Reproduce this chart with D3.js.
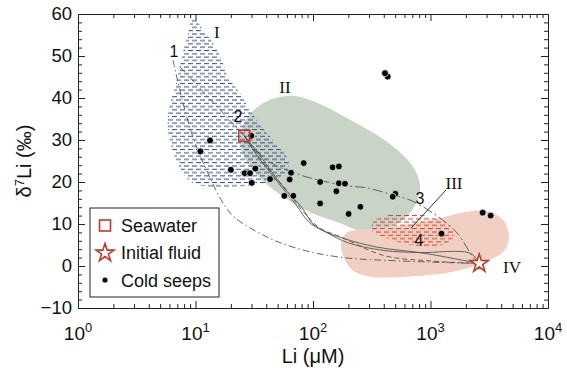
<!DOCTYPE html>
<html>
<head>
<meta charset="utf-8">
<script src="https://cdn.jsdelivr.net/npm/d3@7"></script>
<style>
  body { margin: 0; background: #fff; }
  text { font-family: "Liberation Sans", Arial, sans-serif; }
</style>
</head>
<body>
<div class="canva"></div>
<script>
// ---- data (Li in µM, d7Li in permil) ----
const xTickExps = [0, 1, 2, 3, 4];
const yTicks = [-10, 0, 10, 20, 30, 40, 50, 60];

const seepLi   = [13.3, 11.0, 29.8, 20.0, 26.2, 29.1, 32.3, 30.1, 43.1, 57.0, 68.0, 65.0, 63.3, 83.3, 115, 115, 147, 166, 166, 187, 158, 201, 253, 502, 477, 2780, 3250, 1240, 432, 410];
const seepD7Li = [29.9, 27.3, 31.0, 22.9, 22.1, 22.1, 23.2, 19.8, 20.7, 16.7, 16.7, 22.2, 20.6, 24.5, 20.0, 14.9, 23.5, 23.7, 19.7, 19.6, 17.8, 12.4, 14.1, 17.2, 16.5, 12.7, 12.0, 7.7, 45.1, 45.9];

const seawater = [26, 31];
const initialFluid = [2600, 0.6];

// region outlines
const regionI = [[9.4,58.8],[10.5,57.9],[12.0,55.7],[14.1,53.1],[16.8,49.0],[18.9,45.0],[23.9,41.2],[29.1,37.1],[36.8,33.1],[49.4,28.8],[62,25.0],[58,22.0],[42,19.9],[25,19.0],[12.0,19.0],[9.0,20.2],[7.4,23.3],[6.3,28.1],[5.8,32.9],[5.95,37.6],[6.6,41.9],[7.1,45.5],[7.8,50.7],[8.7,55.8]];
const regionII = [[23.9,30.0],[26.9,34.8],[34,37.9],[47.5,40.0],[70,40.5],[115,38.6],[207,34.8],[372,30.7],[583,26.4],[753,22.4],[814,18.1],[724,14.0],[550,10.5],[387,8.6],[261,8.3],[170,10.2],[98,12.6],[58,16.2],[36.8,20.5],[27.4,24.8]];
const regionIII = [[435,12.1],[696,12.4],[1158,11.2],[1524,9.0],[1554,6.7],[1253,5.0],[669,5.0],[452,6.4],[318,8.3],[324,10.5]];
const regionIV = [[173,5.0],[195,7.9],[288,8.8],[550,9.5],[1205,11.4],[2045,12.9],[3026,13.1],[4140,11.0],[4657,6.7],[4222,3.6],[3026,1.2],[1783,-1.0],[768,-2.4],[288,-2.4],[207,-0.5]];

// mixing curves
const curve1a = [[6.43,49.0],[7.83,38.8],[9.5,30.7],[10.9,26.4],[13.3,21.0],[16.2,16.2],[20.9,11.9],[40.6,6.9],[77.5,4.0],[170,2.1],[550,1.2],[2600,0.6]];
const curve1b = [[7.38,47.4],[26,31]];
const curve3 = [[26,31],[40.6,25.2],[77.5,21.7],[132,20.0],[207,19.0],[288,18.6],[480,16.9],[669,15.7],[1050,12.6],[1681,7.9],[2299,2.1],[2600,0.6]];
const curve2 = [[26,31],[36,26],[55,19],[80,14],[100,10],[130,8],[200,5.5],[400,3.7],[800,3.2],[2200,3.0],[2600,0.6]];
const curve4 = [[26,31],[33,26.5],[50,20],[72,14.5],[92,10.5],[120,8.5],[180,6.6],[350,4.5],[900,3.0],[2600,0.6]];
const curve5 = [[26,31],[38,24.5],[60,18],[85,12.5],[115,9],[170,7],[400,2.5],[1000,1.2],[2600,0.6]];

const leaderIII = [[1355,18.1],[682,9.0]];

const labels = [
  {t: "1", li: 6.56, d: 51.2, serif: false},
  {t: "2", li: 23.0, d: 35.7, serif: false},
  {t: "3", li: 814, d: 16.2, serif: false},
  {t: "4", li: 798, d: 6.2, serif: false},
  {t: "I", li: 15.2, d: 55.7, serif: true},
  {t: "II", li: 57.8, d: 42.6, serif: true},
  {t: "III", li: 1585, d: 19.8, serif: true},
  {t: "IV", li: 4940, d: -0.2, serif: true}
];

// ---- setup ----
const width = 567, height = 371;
const margin = {top: 14, right: 19, bottom: 63, left: 78};

const svg = d3.select(".canva").append("svg")
  .attr("width", width)
  .attr("height", height);

const x = d3.scaleLog().domain([1, 1e4]).range([margin.left, width - margin.right]);
const y = d3.scaleLinear().domain([-10, 60]).range([height - margin.bottom, margin.top]);

const defs = svg.append("defs");
function dashPattern(id, color) {
  const p = defs.append("pattern")
    .attr("id", id)
    .attr("patternUnits", "userSpaceOnUse")
    .attr("width", 8).attr("height", 6.6);
  p.append("line").attr("x1", 0).attr("x2", 5).attr("y1", 1).attr("y2", 1)
    .attr("stroke", color).attr("stroke-width", 1);
  p.append("line").attr("x1", 4).attr("x2", 8).attr("y1", 4.3).attr("y2", 4.3)
    .attr("stroke", color).attr("stroke-width", 1);
  p.append("line").attr("x1", 0).attr("x2", 1).attr("y1", 4.3).attr("y2", 4.3)
    .attr("stroke", color).attr("stroke-width", 1);
}
dashPattern("blueHatch", "#2f4588");
dashPattern("redHatch", "#d33a2c");

defs.append("clipPath").attr("id", "plotClip")
  .append("rect")
  .attr("x", margin.left).attr("y", margin.top)
  .attr("width", width - margin.left - margin.right)
  .attr("height", height - margin.top - margin.bottom);

const plot = svg.append("g").attr("clip-path", "url(#plotClip)");

const area = d3.line()
  .x(d => x(d[0])).y(d => y(d[1]))
  .curve(d3.curveCatmullRomClosed.alpha(0.5));

const path = d3.line()
  .x(d => x(d[0])).y(d => y(d[1]))
  .curve(d3.curveCatmullRom.alpha(0.5));

// regions
plot.append("path").datum(regionII).attr("d", area).attr("fill", "#c8d4c6");
plot.append("path").datum(regionIV).attr("d", area).attr("fill", "#f1d0c3");
plot.append("path").datum(regionI).attr("d", area).attr("fill", "url(#blueHatch)");
plot.append("path").datum(regionIII).attr("d", area).attr("fill", "url(#redHatch)");

// curves
const curves = [
  {data: curve1a, dash: "7,3,1.5,3", w: 0.9},
  {data: curve1b, dash: "7,3,1.5,3", w: 0.9},
  {data: curve3, dash: "10,3,2,3", w: 0.9},
  {data: curve2, dash: null, w: 0.9},
  {data: curve4, dash: null, w: 0.9},
  {data: curve5, dash: "5,3", w: 0.9}
];
plot.selectAll(".mix")
  .data(curves)
  .enter()
  .append("path")
  .attr("class", "mix")
  .attr("d", d => path(d.data))
  .attr("fill", "none")
  .attr("stroke", "#555")
  .attr("stroke-width", d => d.w)
  .attr("stroke-dasharray", d => d.dash);

plot.append("path").datum(leaderIII)
  .attr("d", d3.line().x(d => x(d[0])).y(d => y(d[1])))
  .attr("stroke", "#222").attr("stroke-width", 0.9);

// cold seeps
const seeps = seepLi.map((v, i) => ({li: v, d: seepD7Li[i]}));
plot.selectAll(".seep")
  .data(seeps)
  .enter()
  .append("circle")
  .attr("class", "seep")
  .attr("cx", d => x(d.li))
  .attr("cy", d => y(d.d))
  .attr("r", 3.4)
  .attr("fill", "#000")
  .attr("stroke", "#fff")
  .attr("stroke-width", 0.7);

// seawater square
plot.append("rect")
  .attr("x", x(seawater[0]) - 5.5)
  .attr("y", y(seawater[1]) - 5.5)
  .attr("width", 11).attr("height", 11)
  .attr("fill", "none")
  .attr("stroke", "#c0392b")
  .attr("stroke-width", 1.6);

// initial fluid star
const star = d3.symbol().type(d3.symbolStar).size(100);
plot.append("path")
  .attr("d", star())
  .attr("transform", `translate(${x(initialFluid[0])},${y(initialFluid[1])})`)
  .attr("fill", "#fff")
  .attr("stroke", "#c0392b")
  .attr("stroke-width", 1.6);

// annotation labels
svg.selectAll(".lab")
  .data(labels)
  .enter()
  .append("text")
  .attr("class", "lab")
  .attr("x", d => x(d.li))
  .attr("y", d => y(d.d))
  .attr("dy", "0.35em")
  .attr("text-anchor", "middle")
  .style("font-family", d => d.serif ? "'Liberation Serif', 'Times New Roman', serif" : null)
  .attr("font-size", d => d.serif ? 17 : 16)
  .attr("fill", "#111")
  .text(d => d.t);

// ---- axes ----
const minorX = [];
for (let e = 0; e < 4; e++) for (let k = 2; k <= 9; k++) minorX.push(k * Math.pow(10, e));
const majorX = xTickExps.map(e => Math.pow(10, e));
const minorY = d3.range(-10, 61, 2).filter(v => v % 10 !== 0);

const plotBottom = height - margin.bottom, plotRight = width - margin.right;

function styleAxis(g) {
  g.select(".domain").attr("stroke", "#222").attr("stroke-width", 1);
  g.selectAll(".tick line").attr("stroke", "#222").attr("stroke-width", 1);
}

// bottom
svg.append("g").attr("transform", `translate(0,${plotBottom})`)
  .call(d3.axisBottom(x).tickValues(majorX).tickSizeInner(-7).tickSizeOuter(0).tickFormat(""))
  .call(styleAxis);
svg.append("g").attr("transform", `translate(0,${plotBottom})`)
  .call(d3.axisBottom(x).tickValues(minorX).tickSizeInner(-4).tickSizeOuter(0).tickFormat(""))
  .call(styleAxis);
// top
svg.append("g").attr("transform", `translate(0,${margin.top})`)
  .call(d3.axisTop(x).tickValues(majorX).tickSizeInner(-7).tickSizeOuter(0).tickFormat(""))
  .call(styleAxis);
svg.append("g").attr("transform", `translate(0,${margin.top})`)
  .call(d3.axisTop(x).tickValues(minorX).tickSizeInner(-4).tickSizeOuter(0).tickFormat(""))
  .call(styleAxis);
// left
svg.append("g").attr("transform", `translate(${margin.left},0)`)
  .call(d3.axisLeft(y).tickValues(yTicks).tickSizeInner(-7).tickSizeOuter(0).tickPadding(6))
  .call(styleAxis)
  .call(g => g.selectAll(".tick text").attr("font-size", 18.5).attr("fill", "#111")
    .style("font-family", "'Liberation Sans', Arial, sans-serif"));
svg.append("g").attr("transform", `translate(${margin.left},0)`)
  .call(d3.axisLeft(y).tickValues(minorY).tickSizeInner(-4).tickSizeOuter(0).tickFormat(""))
  .call(styleAxis);
// right
svg.append("g").attr("transform", `translate(${plotRight},0)`)
  .call(d3.axisRight(y).tickValues(yTicks).tickSizeInner(-7).tickSizeOuter(0).tickFormat(""))
  .call(styleAxis);
svg.append("g").attr("transform", `translate(${plotRight},0)`)
  .call(d3.axisRight(y).tickValues(minorY).tickSizeInner(-4).tickSizeOuter(0).tickFormat(""))
  .call(styleAxis);

// x tick labels as 10^n
const xl = svg.append("g").selectAll("text")
  .data(xTickExps)
  .enter()
  .append("text")
  .attr("x", d => x(Math.pow(10, d)))
  .attr("y", plotBottom + 32)
  .attr("text-anchor", "middle")
  .attr("font-size", 19)
  .attr("fill", "#111");
xl.append("tspan").text("10");
xl.append("tspan").attr("dy", -8).attr("font-size", 13).text(d => d);

// axis titles
svg.append("text")
  .attr("x", (margin.left + plotRight) / 2)
  .attr("y", height - 8)
  .attr("text-anchor", "middle")
  .attr("font-size", 20)
  .attr("fill", "#111")
  .text("Li (μM)");

const yt = svg.append("text")
  .attr("transform", `translate(31,${(margin.top + plotBottom) / 2}) rotate(-90)`)
  .attr("text-anchor", "middle")
  .attr("font-size", 20)
  .attr("fill", "#111");
yt.append("tspan").text("δ");
yt.append("tspan").attr("dy", -7).attr("font-size", 13).text("7");
yt.append("tspan").attr("dy", 7).text("Li (‰)");

// ---- legend ----
const lg = svg.append("g").attr("transform", "translate(90,208)");
lg.append("rect").attr("width", 129).attr("height", 89)
  .attr("fill", "#fff").attr("stroke", "#222").attr("stroke-width", 1);
lg.append("rect").attr("x", 9.5).attr("y", 12).attr("width", 11).attr("height", 11)
  .attr("fill", "none").attr("stroke", "#c0392b").attr("stroke-width", 1.6);
lg.append("path").attr("d", star()).attr("transform", "translate(15,45)")
  .attr("fill", "#fff").attr("stroke", "#c0392b").attr("stroke-width", 1.6);
lg.append("circle").attr("cx", 15).attr("cy", 72).attr("r", 2.6).attr("fill", "#000");
const legendNames = ["Seawater", "Initial fluid", "Cold seeps"];
lg.selectAll(".lt")
  .data(legendNames)
  .enter()
  .append("text")
  .attr("class", "lt")
  .attr("x", 31)
  .attr("y", (d, i) => 17.5 + i * 27.5)
  .attr("dy", "0.35em")
  .attr("font-size", 18)
  .attr("fill", "#111")
  .text(d => d);
</script>
</body>
</html>
